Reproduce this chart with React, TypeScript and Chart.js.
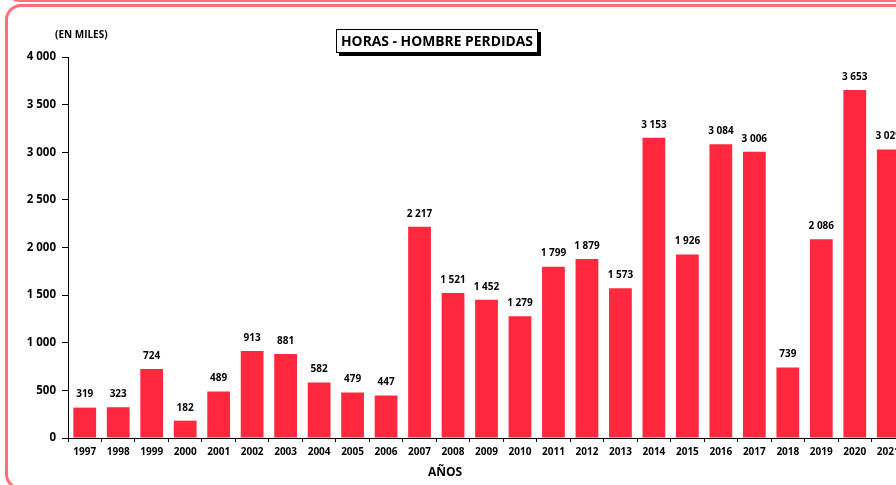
import React, { useEffect, useRef } from "react";
import { Chart, registerables } from "chart.js";

Chart.register(...registerables);

const years = ["1997","1998","1999","2000","2001","2002","2003","2004","2005","2006","2007","2008","2009","2010","2011","2012","2013","2014","2015","2016","2017","2018","2019","2020","2021"];
const horasPerdidas = [319,323,724,182,489,913,881,582,479,447,2217,1521,1452,1279,1799,1879,1573,3153,1926,3084,3006,739,2086,3653,3029];
const yTicks = [0, 500, 1000, 1500, 2000, 2500, 3000, 3500, 4000];

const chartTitle = "HORAS - HOMBRE PERDIDAS";
const unitLabel = "(EN MILES)";
const xTitle = "AÑOS";

const FONT = "'Open Sans', Lato, sans-serif";
const BAR_COLOR = "rgb(255,40,62)";

const fmt = (n: number) => String(n).replace(/\B(?=(\d{3})+(?!\d))/g, " ");

const overlayPlugin = {
  id: "overlay",
  afterDatasetsDraw(chart: any) {
    const ctx = chart.ctx;
    const meta = chart.getDatasetMeta(0);
    ctx.save();
    ctx.fillStyle = "#000";
    ctx.font = `bold 10px ${FONT}`;
    ctx.textAlign = "center";
    ctx.textBaseline = "middle";
    meta.data.forEach((bar: any, i: number) => {
      ctx.fillText(fmt(horasPerdidas[i]), bar.x, bar.y - 13);
    });
    ctx.restore();
  },
  afterDraw(chart: any) {
    const ctx = chart.ctx;
    ctx.save();
    // title box with shadow
    const bx = 336, by = 29, bw = 202, bh = 24;
    ctx.fillStyle = "#000";
    ctx.fillRect(bx + 3, by + 3, bw, bh);
    ctx.fillStyle = "#fff";
    ctx.fillRect(bx, by, bw, bh);
    ctx.strokeStyle = "#000";
    ctx.lineWidth = 1;
    ctx.strokeRect(bx + 0.5, by + 0.5, bw - 1, bh - 1);
    ctx.fillStyle = "#000";
    ctx.font = `bold 15px ${FONT}`;
    ctx.textAlign = "center";
    ctx.textBaseline = "middle";
    const tw = ctx.measureText(chartTitle).width;
    const target = 192;
    ctx.save();
    ctx.translate(bx + bw / 2, by + bh / 2 + 1);
    ctx.scale(Math.min(1, target / tw), 1);
    ctx.fillText(chartTitle, 0, 0);
    ctx.restore();
    // unit label
    ctx.font = `bold 10px ${FONT}`;
    ctx.textAlign = "left";
    const uw = ctx.measureText(unitLabel).width;
    ctx.save();
    ctx.translate(55, 35);
    ctx.scale(Math.min(1, 54 / uw), 1);
    ctx.fillText(unitLabel, 0, 0);
    ctx.restore();
    // x title
    ctx.font = `bold 12px ${FONT}`;
    ctx.textAlign = "center";
    ctx.fillText(xTitle, 445, 473);
    ctx.restore();
  },
};

export default function App() {
  const ref = useRef<HTMLCanvasElement>(null);
  useEffect(() => {
    const chart = new Chart(ref.current!, {
      type: "bar",
      data: {
        labels: years,
        datasets: [
          {
            data: horasPerdidas,
            backgroundColor: BAR_COLOR,
            borderWidth: 0,
            categoryPercentage: 1,
            barPercentage: 0.68,
          },
        ],
      },
      options: {
        responsive: false,
        animation: false,
        devicePixelRatio: 1,
        layout: { padding: { top: 57, left: 0, right: 0, bottom: 0 } },
        plugins: {
          legend: { display: false },
          tooltip: { enabled: false },
          title: { display: false },
        },
        scales: {
          x: {
            grid: { display: true, drawOnChartArea: false, drawTicks: true, tickLength: 4, color: "#000", offset: true },
            border: { display: true, color: "#000", width: 1 },
            ticks: { color: "#000", font: { family: FONT, weight: "bold", size: 10 }, padding: 4, maxRotation: 0, autoSkip: false },
            afterFit: (s: any) => { s.height = 47; },
          },
          y: {
            min: 0,
            max: 4000,
            afterBuildTicks: (s: any) => { s.ticks = yTicks.map((v) => ({ value: v })); },
            grid: { display: true, drawOnChartArea: false, drawTicks: true, tickLength: 6, color: "#000" },
            border: { display: true, color: "#000", width: 1 },
            ticks: { color: "#000", font: { family: FONT, weight: "bold", size: 11.5 }, padding: 6, callback: (v: any) => fmt(Number(v)) },
            afterFit: (s: any) => { s.width = 68; },
          },
        },
      },
      plugins: [overlayPlugin],
    });
    return () => chart.destroy();
  }, []);

  return (
    <div style={{ position: "fixed", left: 0, top: 0, width: 896, height: 485, overflow: "hidden", background: "#fff" }}>
      <div style={{ position: "absolute", left: 4, top: -40, width: 1000, height: 36, border: "3px solid #ff6e78", borderRadius: 16 }} />
      <div style={{ position: "absolute", left: 5, top: 4, width: 1000, height: 480, border: "3px solid #ff6e78", borderRadius: 16 }} />
      <canvas ref={ref} width={905} height={485} style={{ position: "absolute", left: 0, top: 0, width: 905, height: 485 }} />
    </div>
  );
}
